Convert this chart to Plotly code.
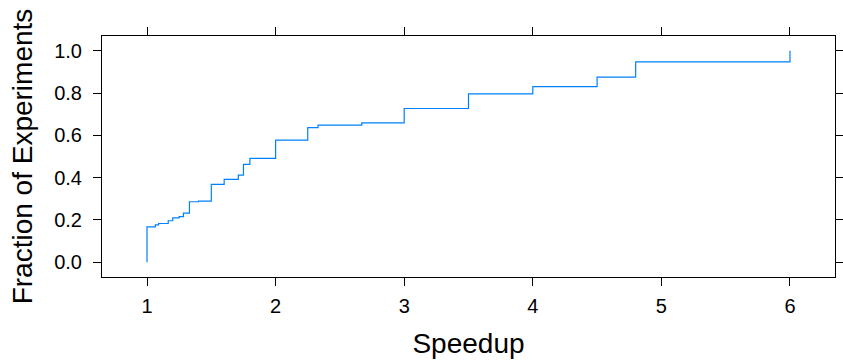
import plotly.graph_objects as go

# Distinct speedup values and the empirical CDF reached at each one
speedup = [1.0, 1.065, 1.09, 1.165, 1.2, 1.25, 1.283, 1.33, 1.40, 1.50, 1.60,
           1.71, 1.75, 1.80, 2.0, 2.25, 2.33, 2.67, 3.0, 3.5, 4.0, 4.5, 4.8, 6.0]
fraction = [0.167, 0.177, 0.183, 0.196, 0.210, 0.216, 0.232, 0.286, 0.289,
            0.368, 0.392, 0.412, 0.463, 0.491, 0.577, 0.637, 0.648, 0.659,
            0.727, 0.796, 0.831, 0.875, 0.948, 1.0]

x_ticks = [1, 2, 3, 4, 5, 6]
y_ticks = [0.0, 0.2, 0.4, 0.6, 0.8, 1.0]
y_tick_text = ["0.0", "0.2", "0.4", "0.6", "0.8", "1.0"]

# step curve starts from zero at the smallest speedup
xs = [speedup[0]] + speedup
ys = [0.0] + fraction

fig = go.Figure(go.Scatter(
    x=xs, y=ys, mode="lines", line=dict(shape="hv", color="#0080ff", width=1.2),
    hoverinfo="skip", showlegend=False,
))

axis_common = dict(
    showline=True, linecolor="black", linewidth=1, mirror="ticks",
    ticks="outside", ticklen=8, tickwidth=1, tickcolor="black",
    showgrid=False, zeroline=False, automargin=False,
    tickfont=dict(family="Liberation Sans, Arial, sans-serif", size=20, color="black"),
)

fig.update_layout(
    width=843, height=361,
    margin=dict(l=102, r=8, t=36, b=84),
    paper_bgcolor="white", plot_bgcolor="white",
    font=dict(family="Liberation Sans, Arial, sans-serif", color="black"),
    xaxis=dict(axis_common, range=[0.65, 6.35], tickvals=x_ticks, ticklabelstandoff=3,
               title=dict(text="Speedup", font=dict(size=28), standoff=17)),
    yaxis=dict(axis_common, range=[-0.07, 1.07], tickvals=y_ticks, ticktext=y_tick_text,
               ticklabelstandoff=7,
               title=dict(text="Fraction of Experiments", font=dict(size=28), standoff=13)),
)

fig.write_html("out.html")
